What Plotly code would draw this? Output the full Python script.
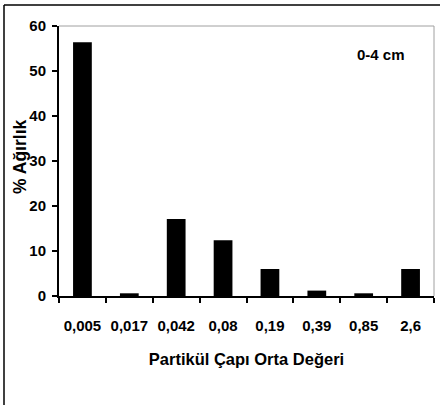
import plotly.graph_objects as go

categories = ["0,005", "0,017", "0,042", "0,08", "0,19", "0,39", "0,85", "2,6"]
values = [56.4, 0.6, 17.1, 12.4, 6.0, 1.2, 0.6, 6.0]
y_ticks = [0, 10, 20, 30, 40, 50, 60]
x_title = "Partikül Çapı Orta Değeri"
y_title = "% Ağırlık"
label = "0-4 cm"

W, H = 440, 405
L, R, T, B = 59, 6, 26, 109
pw, ph = W - L - R, H - T - B

def px(x):
    return (x - L) / pw

def py(y):
    return (H - B - y) / ph

FONT = "Liberation Sans, Arial, sans-serif"

fig = go.Figure(go.Bar(x=categories, y=values, marker=dict(color="black", line=dict(width=0)), width=0.4))

fig.update_layout(
    width=W, height=H,
    margin=dict(l=L, r=R, t=T, b=B, pad=0, autoexpand=False),
    paper_bgcolor="white", plot_bgcolor="white",
    showlegend=False,
    font=dict(family=FONT, color="black", size=15, weight="bold"),
    xaxis=dict(
        type="category", tickson="boundaries", ticks="outside", ticklen=5, tickwidth=2, tickcolor="black",
        showline=True, linecolor="black", linewidth=2, showgrid=False, zeroline=False,
        tickangle=0, automargin=False,
        tickfont=dict(size=15, family=FONT, color="black", weight="bold"), ticklabelstandoff=15,
        title=dict(text=x_title, font=dict(size=16.5, family=FONT, color="black", weight="bold"), standoff=20),
        range=[-0.5, 7.5],
    ),
    yaxis=dict(
        range=[0, 60], tickvals=y_ticks, ticks="outside", ticklen=5, tickwidth=2, tickcolor="black",
        showline=True, linecolor="black", linewidth=2, showgrid=False, zeroline=False,
        automargin=False,
        tickfont=dict(size=15, family=FONT, color="black", weight="bold"), ticklabelstandoff=3,
    ),
    annotations=[
        dict(text=label, xref="paper", yref="paper", x=px(381), y=py(54), showarrow=False,
             xanchor="center", yanchor="middle",
             font=dict(size=15, family=FONT, color="black", weight="bold")),
        dict(text=y_title, xref="paper", yref="paper", x=px(20), y=py(157), showarrow=False,
             xanchor="center", yanchor="middle", textangle=-90,
             font=dict(size=17.5, family=FONT, color="black", weight="bold")),
    ],
    shapes=[
        dict(type="line", xref="paper", yref="paper", x0=0, x1=px(434), y0=1, y1=1, line=dict(color="#a0a0a0", width=1)),
        dict(type="line", xref="paper", yref="paper", x0=px(434), x1=px(434), y0=0, y1=1, line=dict(color="#a0a0a0", width=1)),
        dict(type="line", xref="paper", yref="paper", x0=px(4), x1=px(440), y0=py(5), y1=py(5), line=dict(color="black", width=1.5)),
        dict(type="line", xref="paper", yref="paper", x0=px(4), x1=px(4), y0=py(5), y1=py(405), line=dict(color="black", width=1.5)),
    ],
)

fig.write_html("out.html", config={"displayModeBar": False}, post_script="document.body.style.margin='0';")
